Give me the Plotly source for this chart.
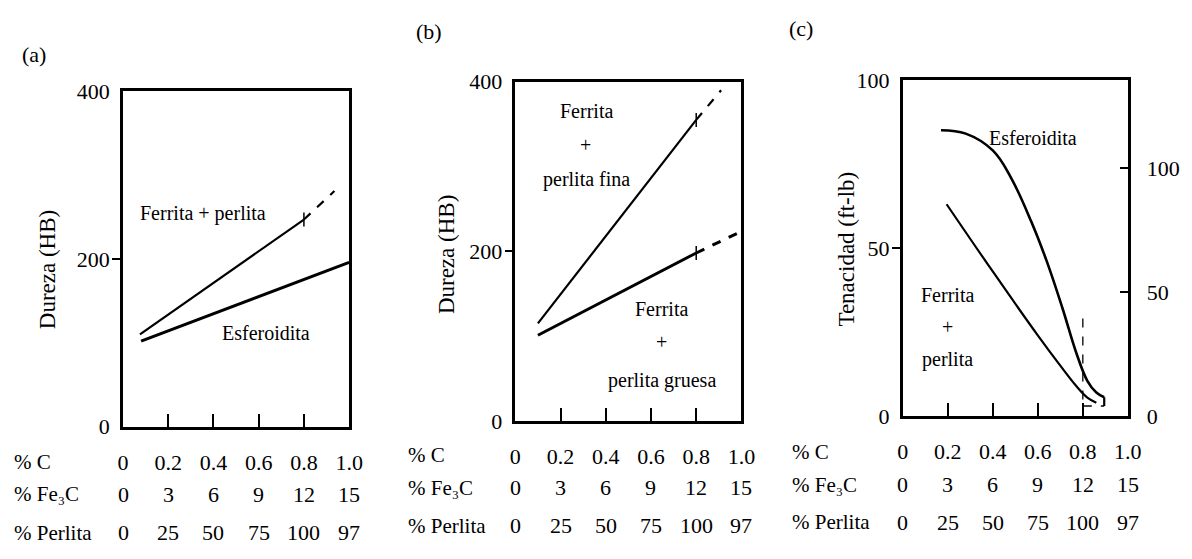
import plotly.graph_objects as go

W, H = 1192, 559

# ---------------- data ----------------
x_ticks = [0, 0.2, 0.4, 0.6, 0.8, 1.0]
row_C = ["0", "0.2", "0.4", "0.6", "0.8", "1.0"]
row_Fe3C = ["0", "3", "6", "9", "12", "15"]
row_Perlita = ["0", "25", "50", "75", "100", "97"]
row_names = ["% C", "% Fe\u2083C", "% Perlita"]

# (a) Dureza (HB)
a_fp_C = [0.075, 0.8]
a_fp_HB = [110, 247]
a_fp_ext_C = [0.8, 0.935]
a_fp_ext_HB = [247, 281]
a_esf_C = [0.08, 1.0]
a_esf_HB = [102, 196]

# (b) Dureza (HB)
b_fine_C = [0.1, 0.8]
b_fine_HB = [115, 355]
b_fine_ext_C = [0.8, 0.91]
b_fine_ext_HB = [355, 390]
b_coarse_C = [0.1, 0.8]
b_coarse_HB = [101, 198]
b_coarse_ext_C = [0.8, 0.98]
b_coarse_ext_HB = [198, 221]

# (c) Tenacidad (ft-lb), right axis in J
c_esf_C = [0.17, 0.28, 0.40, 0.48, 0.57, 0.64, 0.71, 0.77, 0.82, 0.86, 0.895]
c_esf_T = [85, 84, 79, 71, 58, 46, 32, 19, 10.5, 7, 5.6]
c_esf_end_C = [0.895, 0.895]
c_esf_end_T = [5.6, 3]
c_fp_C = [0.195, 0.40, 0.60, 0.70, 0.77, 0.82, 0.86]
c_fp_T = [63, 43, 24, 15, 9, 5.5, 4]
c_vdash_C = [0.8, 0.8]
c_vdash_T = [29, 3]
c_hdash_C = [0.8, 0.895]
c_hdash_T = [3, 3]

FONT = "Liberation Serif, Times New Roman, serif"


def px(x):
    return x / W


def py(y):
    return 1 - y / H


fig = go.Figure()

# panel pixel boxes: (left, right, top, bottom)
boxes = {
    "a": (119, 349, 83, 434),
    "b": (518, 748, 73, 428),
    "c": (912, 1141, 71, 423),
}

LINE = dict(color="black", width=2.2)
DASH = dict(color="black", width=2.2, dash="dash")
TICKMARK = dict(symbol="line-ns", size=10, line=dict(color="black", width=1.5))

# (a)
fig.add_trace(go.Scatter(x=a_fp_C, y=a_fp_HB, mode="lines", line=LINE, xaxis="x", yaxis="y"))
fig.add_trace(go.Scatter(x=a_fp_ext_C, y=a_fp_ext_HB, mode="lines", line=DASH, xaxis="x", yaxis="y"))
fig.add_trace(go.Scatter(x=a_esf_C, y=a_esf_HB, mode="lines", line=dict(color="black", width=3), xaxis="x", yaxis="y"))
fig.add_trace(go.Scatter(x=a_fp_C[-1:], y=a_fp_HB[-1:], mode="markers", marker=TICKMARK, xaxis="x", yaxis="y"))

# (b)
fig.add_trace(go.Scatter(x=b_fine_C, y=b_fine_HB, mode="lines", line=LINE, xaxis="x2", yaxis="y2"))
fig.add_trace(go.Scatter(x=b_fine_ext_C, y=b_fine_ext_HB, mode="lines", line=DASH, xaxis="x2", yaxis="y2"))
fig.add_trace(go.Scatter(x=b_coarse_C, y=b_coarse_HB, mode="lines", line=dict(color="black", width=3), xaxis="x2", yaxis="y2"))
fig.add_trace(go.Scatter(x=b_coarse_ext_C, y=b_coarse_ext_HB, mode="lines", line=dict(color="black", width=3, dash="dash"), xaxis="x2", yaxis="y2"))
fig.add_trace(go.Scatter(x=[b_fine_C[-1], b_coarse_C[-1]], y=[b_fine_HB[-1], b_coarse_HB[-1]], mode="markers",
                         marker=TICKMARK, xaxis="x2", yaxis="y2"))

# (c)
fig.add_trace(go.Scatter(x=c_esf_C, y=c_esf_T, mode="lines", line=dict(color="black", width=2.6, shape="spline", smoothing=1.1), xaxis="x3", yaxis="y3"))
fig.add_trace(go.Scatter(x=c_esf_end_C, y=c_esf_end_T, mode="lines", line=LINE, xaxis="x3", yaxis="y3"))
fig.add_trace(go.Scatter(x=c_fp_C, y=c_fp_T, mode="lines", line=dict(color="black", width=2.2, shape="spline", smoothing=1.1), xaxis="x3", yaxis="y3"))
fig.add_trace(go.Scatter(x=c_vdash_C, y=c_vdash_T, mode="lines", line=dict(color="black", width=1.3, dash="dash"), xaxis="x3", yaxis="y3"))
fig.add_trace(go.Scatter(x=c_hdash_C, y=c_hdash_T, mode="lines", line=dict(color="black", width=1.3, dash="dash"), xaxis="x3", yaxis="y3"))
# activates the right-hand axis of (c)
fig.add_trace(go.Scatter(x=[None], y=[None], xaxis="x3", yaxis="y4"))

TICKFONT = dict(family=FONT, size=22, color="black")


def xaxis_for(key, anchor):
    l, r, t, b = boxes[key]
    return dict(domain=[px(l), px(r)], range=[0, 1.0], tickvals=x_ticks, ticktext=row_C,
                ticks="inside", ticklen=13, tickwidth=1.5, tickcolor="black",
                showline=True, linewidth=2.5, linecolor="black", mirror=True,
                showgrid=False, zeroline=False, tickfont=TICKFONT, ticklabelstandoff=14,
                anchor=anchor)


def yaxis_for(key, rng, tv, tt, mid, anchor):
    l, r, t, b = boxes[key]
    return dict(domain=[py(b), py(t)], range=rng, tickvals=tv, ticktext=tt, ticks="",
                minor=dict(tickvals=[mid], ticks="outside", ticklen=8, tickwidth=1.5, tickcolor="black", showgrid=False),
                showline=True, linewidth=2.5, linecolor="black", mirror=True,
                showgrid=False, zeroline=False, tickfont=TICKFONT, ticklabelstandoff=6,
                anchor=anchor)


fig.update_layout(
    width=W, height=H, autosize=False,
    margin=dict(l=0, r=0, t=0, b=0),
    paper_bgcolor="white", plot_bgcolor="white",
    showlegend=False,
    font=dict(family=FONT, color="black"),
    xaxis=xaxis_for("a", "y"), xaxis2=xaxis_for("b", "y2"), xaxis3=xaxis_for("c", "y3"),
    yaxis=yaxis_for("a", [0, 400], [0, 200, 400], ["0", "200", "400"], 200, "x"),
    yaxis2=yaxis_for("b", [0, 400], [0, 200, 400], ["0", "200", "400"], 200, "x2"),
    yaxis3=yaxis_for("c", [0, 100], [0, 50, 100], ["0", "50", "100"], 50, "x3"),
    yaxis4=dict(overlaying="y3", side="right", anchor="x3", range=[0, 135.6],
                tickvals=[0, 50, 100], ticktext=["0", "50", "100"], ticks="",
                minor=dict(tickvals=[50, 100], ticks="inside", ticklen=8, tickwidth=1.5, tickcolor="black", showgrid=False),
                showline=False, showgrid=False, zeroline=False, tickfont=TICKFONT,
                ticklabelstandoff=18),
)

ann = []


def text(x, y, s, size=20, angle=0, xanchor="center"):
    ann.append(dict(x=px(x), y=py(y), xref="paper", yref="paper", text=s, showarrow=False,
                    font=dict(family=FONT, size=size, color="black"), textangle=angle,
                    xanchor=xanchor, yanchor="middle"))


# panel letters
text(28, 45, "(a)", size=22)
text(430, 20, "(b)", size=22)
text(809, 17, "(c)", size=22)

# axis titles
text(43, 270, "Dureza (HB)", size=23, angle=-90)
text(448, 254, "Dureza (HB)", size=23, angle=-90)
text(855, 248, "Tenacidad (ft-lb)", size=23, angle=-90)

# curve labels
text(200, 211, "Ferrita + perlita")
text(264, 336, "Esferoidita")
text(590, 104, "Ferrita")
text(589, 139, "+")
text(590, 175, "perlita fina")
text(667, 311, "Ferrita")
text(667, 345, "+")
text(667, 386, "perlita gruesa")
text(1045, 132, "Esferoidita")
text(958, 296, "Ferrita")
text(958, 330, "+")
text(958, 364, "perlita")

# composition table rows
row_y = {"a": (466, 505, 545), "b": (459, 498, 538), "c": (456, 495, 534)}
row_x0 = {"a": 6, "b": 407, "c": 797}
for key, xa in (("a", "x"), ("b", "x2"), ("c", "x3")):
    ys = row_y[key]
    for i, (name, yy) in enumerate(zip(row_names, ys)):
        text(row_x0[key], yy + (5 if i == 0 else 0), name, size=21, xanchor="left")
    for labels, yy in ((row_Fe3C, ys[1]), (row_Perlita, ys[2])):
        for xv, lab in zip(x_ticks, labels):
            ann.append(dict(x=xv, y=py(yy), xref=xa, yref="paper", text=lab, showarrow=False,
                            font=dict(family=FONT, size=22, color="black"),
                            xanchor="center", yanchor="middle"))

fig.update_layout(annotations=ann)
fig.write_html("out.html")
